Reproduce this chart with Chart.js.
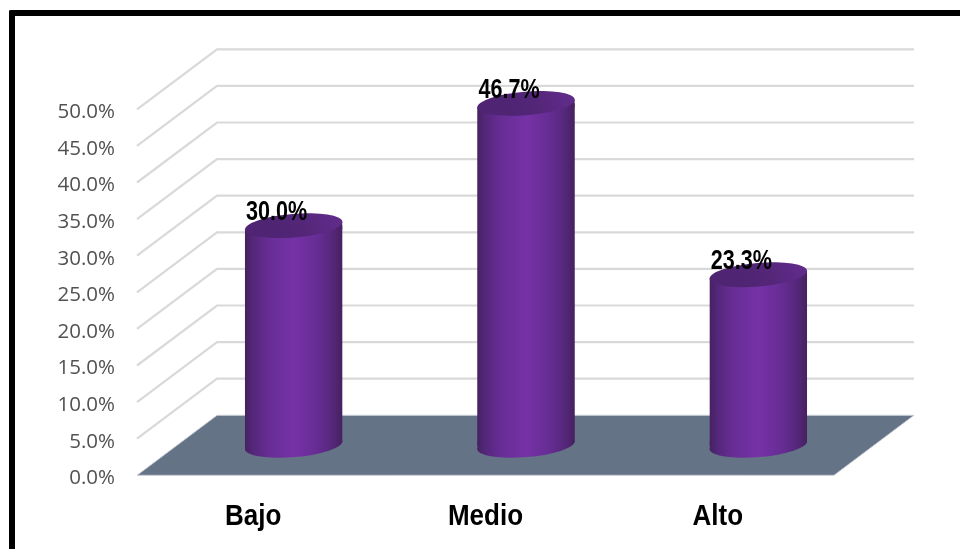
<!DOCTYPE html>
<html lang="es">
<head>
<meta charset="utf-8">
<title>Bajo, Medio, Alto</title>
<script src="https://cdn.jsdelivr.net/npm/chart.js@4"></script>
<style>
  html, body { margin: 0; padding: 0; background: #fff; }
  #marco { position: absolute; left: 9px; top: 10px; width: 951px; height: 539px; box-sizing: border-box;
           border-top: 6px solid #000; border-left: 6px solid #000; border-top-left-radius: 2px; }
  #grafico { position: absolute; left: 0; top: 0; }
</style>
</head>
<body>
<canvas id="grafico" width="960" height="549"></canvas>
<div id="marco"></div>
<script>
// Datos
const categorias = ['Bajo', 'Medio', 'Alto'];
const porcentajes = [30.0, 46.7, 23.3];
const ejeMax = 50;
const ejePaso = 5;

// Perspectiva del piso y de los cilindros
const FONDO_X = 80, FONDO_Y = -60;
const CIL_X = 40.5, CIL_Y = -30;
const CIL_ANCHO = 97.5;
const ELIPSE_RX = 48.9, ELIPSE_RY = 11.8, ELIPSE_GIRO = -4.7 * Math.PI / 180, ELIPSE_T = 3.8;

function degradadoCilindro(ctx, x) {
  if (!Number.isFinite(x)) return '#7532a6'; // escalas aun sin medir
  const g = ctx.createLinearGradient(x - CIL_ANCHO / 2, 0, x + CIL_ANCHO / 2, 0);
  g.addColorStop(0, '#46215f');
  g.addColorStop(0.08, '#54277a');
  g.addColorStop(0.25, '#682d96');
  g.addColorStop(0.5, '#7532a6');
  g.addColorStop(0.72, '#682d96');
  g.addColorStop(0.9, '#55277a');
  g.addColorStop(1, '#46215f');
  return g;
}

// Tapa superior: algo mas clara hacia atras y a la derecha
function degradadoTapa(ctx, x, y) {
  const g = ctx.createLinearGradient(x - 20, y + ELIPSE_RY, x + 35, y - ELIPSE_RY);
  g.addColorStop(0, '#4f2473');
  g.addColorStop(0.5, '#532677');
  g.addColorStop(1, '#5e2b88');
  return g;
}

function elipse(ctx, x, y) {
  ctx.beginPath();
  ctx.ellipse(x, y, ELIPSE_RX, ELIPSE_RY, ELIPSE_GIRO, 0, Math.PI * 2);
  ctx.fill();
}

// Dibuja las etiquetas de un eje con un ajuste de transformacion
function ajustarEtiquetas(escala, ajuste) {
  if (escala._ajustada) return;
  escala._ajustada = true;
  const original = escala.drawLabels;
  escala.drawLabels = function (area) {
    this.ctx.save();
    ajuste(this.ctx);
    original.call(this, area);
    this.ctx.restore();
  };
}

const escena3d = {
  id: 'escena3d',
  afterLayout(chart) {
    const { x, y } = chart.scales;
    ajustarEtiquetas(y, ctx => ctx.translate(0, 3));
    // categorias un poco mas altas, estiradas desde su linea central
    ajustarEtiquetas(x, ctx => {
      ctx.translate(0, 515);
      ctx.scale(1, 1.12);
      ctx.translate(0, -515);
    });
  },
  beforeDatasetsDraw(chart) {
    const { ctx, scales: { y }, chartArea: area } = chart;
    // paredes: cada marca del eje sube en diagonal y sigue por el fondo
    ctx.save();
    ctx.strokeStyle = '#d9d9d9';
    ctx.lineWidth = 2.2;
    for (let v = ejePaso; v <= ejeMax; v += ejePaso) {
      const py = y.getPixelForValue(v);
      ctx.beginPath();
      ctx.moveTo(area.left, py);
      ctx.lineTo(area.left + FONDO_X, py + FONDO_Y);
      ctx.lineTo(area.right + FONDO_X, py + FONDO_Y);
      ctx.stroke();
    }
    // piso
    const y0 = y.getPixelForValue(0);
    ctx.fillStyle = '#647386';
    ctx.strokeStyle = '#c9ced6';
    ctx.lineWidth = 1;
    ctx.beginPath();
    ctx.moveTo(area.left, y0);
    ctx.lineTo(area.left + FONDO_X, y0 + FONDO_Y);
    ctx.lineTo(area.right + FONDO_X, y0 + FONDO_Y);
    ctx.lineTo(area.right, y0);
    ctx.closePath();
    ctx.fill();
    ctx.stroke();
    ctx.restore();

    // las barras se dibujan desplazadas hacia el centro del piso,
    // recortadas para que sus esquinas sigan el giro de las elipses
    const barras = chart.getDatasetMeta(0).data;
    const r = CIL_ANCHO / 2;
    ctx.save();
    ctx.translate(CIL_X, CIL_Y);
    barras.forEach(el => {
      ctx.fillStyle = degradadoCilindro(ctx, el.x);
      elipse(ctx, el.x, el.base);
    });
    ctx.beginPath();
    barras.forEach(el => {
      ctx.moveTo(el.x - r, el.y + ELIPSE_T);
      ctx.lineTo(el.x + r, el.y - ELIPSE_T);
      ctx.lineTo(el.x + r, el.base - ELIPSE_T);
      ctx.lineTo(el.x - r, el.base + ELIPSE_T);
      ctx.closePath();
    });
    ctx.clip();
    // remates del lateral donde la barra recta no llega a la inclinacion
    barras.forEach(el => {
      ctx.fillStyle = degradadoCilindro(ctx, el.x);
      ctx.fillRect(el.x - r, el.y - ELIPSE_T, CIL_ANCHO, ELIPSE_T * 2);
      ctx.fillRect(el.x - r, el.base - ELIPSE_T, CIL_ANCHO, ELIPSE_T * 2);
    });
  },
  afterDatasetsDraw(chart) {
    const { ctx } = chart;
    const barras = chart.getDatasetMeta(0).data;
    ctx.restore();

    ctx.save();
    ctx.translate(CIL_X, CIL_Y);
    barras.forEach(el => {
      ctx.fillStyle = degradadoTapa(ctx, el.x, el.y);
      elipse(ctx, el.x, el.y);
    });
    ctx.restore();

    // etiquetas de valor, en negrita estrecha
    ctx.save();
    ctx.fillStyle = '#000';
    ctx.font = 'bold 27px "Liberation Sans"';
    ctx.textAlign = 'center';
    ctx.textBaseline = 'middle';
    barras.forEach((el, i) => {
      ctx.save();
      ctx.translate(el.x + 23.5, el.y + CIL_Y - 13);
      ctx.scale(0.8, 1);
      ctx.fillText(porcentajes[i].toFixed(1) + '%', 0, 0);
      ctx.restore();
    });
    ctx.restore();
  }
};

new Chart(document.getElementById('grafico'), {
  type: 'bar',
  data: {
    labels: categorias,
    datasets: [{
      data: porcentajes,
      barThickness: CIL_ANCHO,
      borderWidth: 0,
      clip: false,
      backgroundColor: c => degradadoCilindro(c.chart.ctx, c.chart.scales.x.getPixelForValue(c.dataIndex))
    }]
  },
  options: {
    responsive: false,
    animation: false,
    layout: { padding: { left: 0, top: 109.3, right: 126, bottom: 0 } },
    plugins: { legend: { display: false }, tooltip: { enabled: false } },
    scales: {
      x: {
        grid: { display: false, drawTicks: false },
        border: { display: false },
        ticks: { color: '#000', padding: 26, font: { family: '"Liberation Sans"', size: 26, weight: 'bold' } },
        afterFit: s => { s.height = 73.7; }
      },
      y: {
        min: 0,
        max: ejeMax,
        grid: { display: false, drawTicks: false },
        border: { display: false },
        ticks: {
          stepSize: ejePaso,
          color: '#525252',
          padding: 22,
          font: { family: '"Open Sans"', size: 20.5 },
          callback: v => v.toFixed(1) + '%'
        },
        afterFit: s => { s.width = 137; }
      }
    }
  },
  plugins: [escena3d]
});
</script>
</body>
</html>
